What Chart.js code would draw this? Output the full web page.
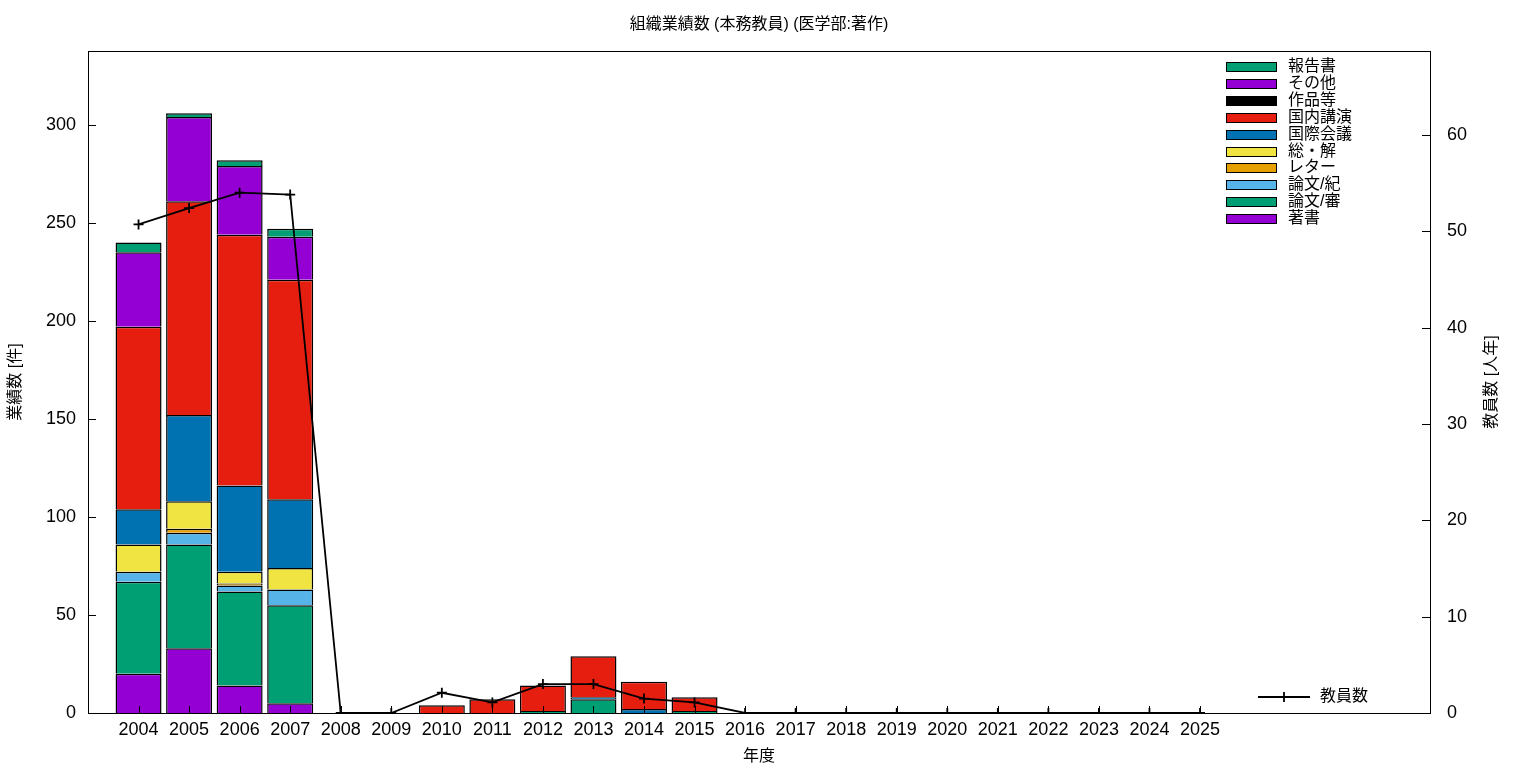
<!DOCTYPE html>
<html><head><meta charset="utf-8">
<script src="https://cdn.jsdelivr.net/npm/chart.js@4/dist/chart.umd.min.js"></script>
<style>html,body{margin:0;padding:0;background:#fff}#wrap{width:1536px;height:768px}</style>
</head><body><div id="wrap"><canvas id="c"></canvas></div>
<script>
// ---- data ----
const TITLE='組織業績数 (本務教員) (医学部:著作)';
const YEARS=[2004,2005,2006,2007,2008,2009,2010,2011,2012,2013,2014,2015,2016,2017,2018,2019,2020,2021,2022,2023,2024,2025];
const chosho   =[20,33,14, 5,0,0,0,0, 0, 0, 0,0,0,0,0,0,0,0,0,0,0,0]; // 著書
const ronShin  =[47,53,48,50,0,0,0,0, 1, 7, 0,1,0,0,0,0,0,0,0,0,0,0]; // 論文/審
const ronKi    =[ 5, 6, 3, 8,0,0,0,0, 0, 0, 0,0,0,0,0,0,0,0,0,0,0,0]; // 論文/紀
const letter   =[ 0, 2, 1, 0,0,0,0,0, 0, 0, 0,0,0,0,0,0,0,0,0,0,0,0]; // レター
const soukai   =[14,14, 6,11,0,0,0,0, 0, 0, 0,0,0,0,0,0,0,0,0,0,0,0]; // 総・解
const kokusai  =[18,44,44,35,0,0,0,0, 0, 1, 2,0,0,0,0,0,0,0,0,0,0,0]; // 国際会議
const kokunai  =[93,109,128,112,0,0,4,7,13,21,14,7,0,0,0,0,0,0,0,0,0,0]; // 国内講演
const sakuhin  =[ 0, 0, 0, 0,0,0,0,0, 0, 0, 0,0,0,0,0,0,0,0,0,0,0,0]; // 作品等
const sonota   =[38,43,35,22,0,0,0,0, 0, 0, 0,0,0,0,0,0,0,0,0,0,0,0]; // その他
const houkoku  =[ 5, 2, 3, 4,0,0,0,0, 0, 0, 0,0,0,0,0,0,0,0,0,0,0,0]; // 報告書
const teachers =[50.7,52.4,54.0,53.8,0,0,2.1,1.1,3.0,3.0,1.5,1.1,0,0,0,0,0,0,0,0,0,0]; // 教員数

const SERIES=[
  ['著書',chosho,'#9400d3'],['論文/審',ronShin,'#009e73'],['論文/紀',ronKi,'#56b4e9'],
  ['レター',letter,'#e69f00'],['総・解',soukai,'#f0e442'],['国際会議',kokusai,'#0072b2'],
  ['国内講演',kokunai,'#e51e10'],['作品等',sakuhin,'#000000'],['その他',sonota,'#9400d3'],['報告書',houkoku,'#009e73']
];
const FONT='"Liberation Sans","Noto Sans CJK JP",sans-serif';

const pts=arr=>YEARS.map((yr,i)=>({x:yr,y:arr[i]?arr[i]:null}));
const datasets=SERIES.map(([name,arr,col])=>({type:'bar',label:name,data:pts(arr),backgroundColor:col,borderColor:'#000',borderWidth:1.5,
  barPercentage:0.91,categoryPercentage:1,yAxisID:'y',order:1}));
datasets.push({type:'line',label:'教員数',data:YEARS.map((yr,i)=>({x:yr,y:teachers[i]})),yAxisID:'y2',borderColor:'#000',borderWidth:1.8,
  pointStyle:'cross',pointRadius:5,pointBorderWidth:1.8,pointBorderColor:'#000',tension:0,order:0});

// frame + inward ticks like gnuplot
const frame={id:'frame',afterDatasetsDraw(c){
  const {ctx,chartArea:a,scales:{x,y,y2}}=c;
  ctx.save();ctx.strokeStyle='#000';ctx.lineWidth=1;ctx.beginPath();
  y.ticks.forEach(t=>{const p=Math.round(y.getPixelForValue(t.value))+.5;ctx.moveTo(a.left,p);ctx.lineTo(a.left+8,p);});
  y2.ticks.forEach(t=>{const p=Math.round(y2.getPixelForValue(t.value))+.5;ctx.moveTo(a.right-8,p);ctx.lineTo(a.right,p);});
  x.ticks.forEach(t=>{const p=Math.round(x.getPixelForValue(t.value))+.5;ctx.moveTo(p,a.bottom);ctx.lineTo(p,a.bottom-7);});
  ctx.stroke();
  ctx.strokeRect(Math.round(a.left)+.5,Math.round(a.top)+.5,Math.round(a.right-a.left),Math.round(a.bottom-a.top));
  ctx.restore();
}};

// title centred on the plot, legends inside the plot, right axis title
const keys={id:'keys',afterDraw(c){
  const ctx=c.ctx,a=c.chartArea;ctx.save();ctx.textBaseline='middle';ctx.fillStyle='#000';
  ctx.font='16px '+FONT;ctx.textAlign='center';ctx.fillText(TITLE,(a.left+a.right)/2,25);ctx.textAlign='left';
  const bars=c.data.datasets.filter(d=>d.type==='bar').slice().reverse();
  bars.forEach((d,k)=>{const yy=Math.round(67+k*16.9);
    ctx.fillStyle=d.backgroundColor;ctx.fillRect(1226,yy-4,50,9);
    ctx.strokeStyle='#000';ctx.lineWidth=1;ctx.strokeRect(1226.5,yy-4.5,50,9);
    ctx.fillStyle='#000';ctx.fillText(d.label,1288,yy);});
  ctx.strokeStyle='#000';ctx.lineWidth=1.8;ctx.beginPath();
  ctx.moveTo(1258,697);ctx.lineTo(1310,697);ctx.moveTo(1284,692);ctx.lineTo(1284,702);ctx.stroke();
  ctx.fillText('教員数',1320,697);
  ctx.translate(1492,382);ctx.rotate(-Math.PI/2);ctx.textAlign='center';ctx.fillText('教員数 [人年]',0,0);
  ctx.restore();
}};

new Chart(document.getElementById('c'),{
  data:{datasets},
  plugins:[frame,keys],
  options:{responsive:true,maintainAspectRatio:false,animation:false,
    layout:{padding:{top:51}},
    plugins:{legend:{display:false},tooltip:{enabled:false},title:{display:false}},
    scales:{
      x:{type:'linear',offset:false,min:2003,max:2029.55,stacked:true,grid:{display:false,drawTicks:false},border:{display:false},
        afterBuildTicks:s=>{s.ticks=YEARS.map(v=>({value:v}));},
        afterFit:s=>{s.height=55;},
        ticks:{autoSkip:false,maxRotation:0,color:'#000',padding:6,font:{family:FONT,size:18},callback:v=>String(v)},
        title:{display:true,text:'年度',color:'#000',font:{family:FONT,size:16},padding:{top:0,bottom:2}}},
      y:{type:'linear',position:'left',min:0,max:337.7,stacked:true,grid:{display:false,drawTicks:false},border:{display:false},
        afterFit:s=>{s.width=88;},
        ticks:{stepSize:50,includeBounds:false,color:'#000',padding:12,font:{family:FONT,size:18}},
        title:{display:true,text:'業績数 [件]',color:'#000',font:{family:FONT,size:16},padding:{top:6,bottom:0}}},
      y2:{type:'linear',position:'right',min:0,max:68.7,grid:{display:false,drawTicks:false},border:{display:false},
        afterFit:s=>{s.width=106;},
        ticks:{stepSize:10,includeBounds:false,color:'#000',padding:17,font:{family:FONT,size:18}}}
    }
  }
});
</script></body></html>
